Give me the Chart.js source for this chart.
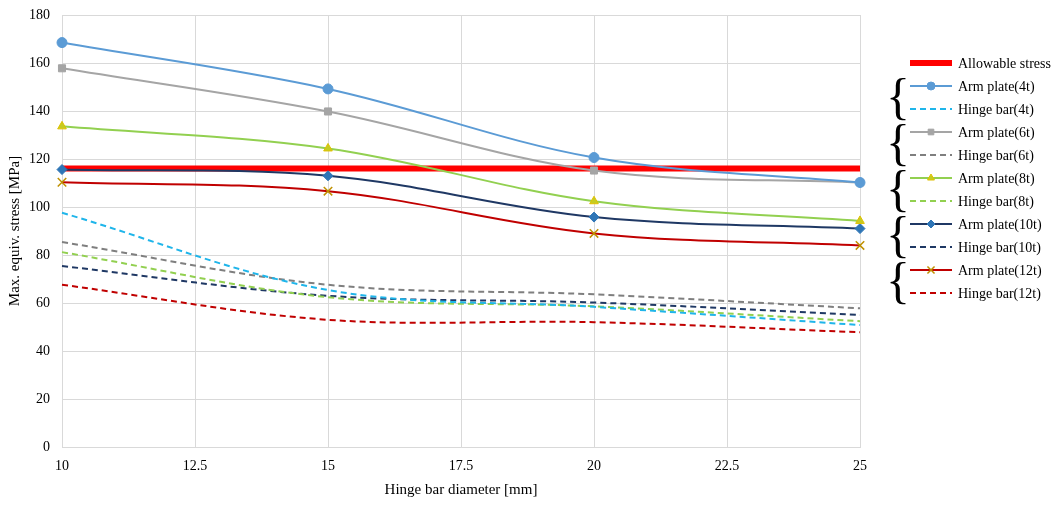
<!DOCTYPE html>
<html>
<head>
<meta charset="utf-8">
<script src="https://cdn.jsdelivr.net/npm/chart.js@4"></script>
<style>
  body { margin: 0; background: #fff; }
  #wrap { width: 1061px; height: 505px; }
</style>
</head>
<body>
<div id="wrap"><canvas id="stress-chart" width="1061" height="505"></canvas></div>
<script>
// hinge bar diameter [mm]
const diameters = [10, 15, 20, 25];
const allowable = 116;

const armPlate4t  = [168.5, 149.2, 120.6, 110.2];
const armPlate6t  = [157.8, 139.8, 115.2, 110.2];
const armPlate8t  = [133.6, 124.4, 102.4, 94.2];
const armPlate10t = [115.6, 113.0, 95.8, 91.0];
const armPlate12t = [110.3, 106.6, 89.0, 84.0];

const hingeBar4t  = [97.6, 65.4, 58.4, 50.8];
const hingeBar6t  = [85.4, 67.6, 63.6, 57.8];
const hingeBar8t  = [81.2, 62.4, 58.6, 52.4];
const hingeBar10t = [75.4, 63.0, 60.2, 55.0];
const hingeBar12t = [67.6, 53.0, 52.0, 47.8];

const yTicks = [0, 20, 40, 60, 80, 100, 120, 140, 160, 180];
const xTicks = [10, 12.5, 15, 17.5, 20, 22.5, 25];

const serif = "'Liberation Serif', 'Times New Roman', serif";

function pts(vals) {
    return vals.map(function(v, i) { return {x: diameters[i], y: v}; });
}

function arm(label, vals, color, style, markerFill, markerBorder) {
    return {
        label: label, data: pts(vals), borderColor: color, borderWidth: 2,
        pointStyle: style, pointRadius: style === 'crossRot' ? 6 : 5,
        pointBackgroundColor: markerFill, pointBorderColor: markerBorder || markerFill,
        pointBorderWidth: style === 'crossRot' ? 1.5 : 1,
        tension: 0.35, fill: false, clip: false
    };
}

function hinge(label, vals, color) {
    return {
        label: label, data: pts(vals), borderColor: color, borderWidth: 2,
        borderDash: [6, 4], pointRadius: 0, tension: 0.35, fill: false, clip: false
    };
}

const datasets = [
    arm('Arm plate(4t)', armPlate4t, '#5b9bd5', 'circle', '#5b9bd5'),
    hinge('Hinge bar(4t)', hingeBar4t, '#1fb5ea'),
    arm('Arm plate(6t)', armPlate6t, '#a5a5a5', 'rect', '#a5a5a5'),
    hinge('Hinge bar(6t)', hingeBar6t, '#7f7f7f'),
    arm('Arm plate(8t)', armPlate8t, '#92d050', 'triangle', '#c5cc22', '#e0c000'),
    hinge('Hinge bar(8t)', hingeBar8t, '#92d050'),
    arm('Arm plate(10t)', armPlate10t, '#1f3864', 'rectRot', '#2e75b6'),
    hinge('Hinge bar(10t)', hingeBar10t, '#1f3864'),
    arm('Arm plate(12t)', armPlate12t, '#c00000', 'crossRot', '#bf9000', '#bf9000'),
    hinge('Hinge bar(12t)', hingeBar12t, '#c00000'),
    {
        label: 'Allowable stress',
        data: [{x: diameters[0], y: allowable}, {x: diameters[diameters.length - 1], y: allowable}],
        borderColor: '#ff0000', borderWidth: 6, pointRadius: 0, fill: false
    }
];

// legend on the right with braces grouping arm plate / hinge bar pairs
const sideLegend = {
    id: 'sideLegend',
    afterDraw: function(chart) {
        const ctx = chart.ctx;
        const x0 = 910, x1 = 952, tx = 958;
        const rowY = function(i) { return 63 + i * 23; };
        const order = [10, 0, 1, 2, 3, 4, 5, 6, 7, 8, 9];
        ctx.save();
        ctx.font = '14px ' + serif;
        ctx.textBaseline = 'middle';
        order.forEach(function(di, i) {
            const ds = chart.data.datasets[di];
            const y = rowY(i);
            ctx.strokeStyle = ds.borderColor;
            ctx.lineWidth = ds.borderWidth;
            ctx.setLineDash(ds.borderDash || []);
            ctx.beginPath();
            ctx.moveTo(x0, y);
            ctx.lineTo(x1, y);
            ctx.stroke();
            ctx.setLineDash([]);
            if (ds.pointRadius) {
                ctx.fillStyle = ds.pointBackgroundColor;
                ctx.strokeStyle = ds.pointBorderColor;
                ctx.lineWidth = ds.pointBorderWidth;
                Chart.helpers.drawPoint(ctx, {
                    pointStyle: ds.pointStyle, radius: ds.pointRadius - 1, rotation: 0,
                    borderWidth: ds.pointBorderWidth
                }, (x0 + x1) / 2, y);
            }
            ctx.fillStyle = '#000';
            ctx.textAlign = 'left';
            ctx.fillText(ds.label, tx, y + 1);
        });
        // braces
        ctx.fillStyle = '#000';
        ctx.font = '50px ' + serif;
        ctx.textAlign = 'center';
        for (let g = 0; g < 5; g++) {
            const yc = (rowY(1 + g * 2) + rowY(2 + g * 2)) / 2;
            ctx.fillText('{', 898, yc + 2);
        }
        ctx.restore();
    }
};

new Chart(document.getElementById('stress-chart'), {
    type: 'line',
    data: { datasets: datasets },
    plugins: [sideLegend],
    options: {
        responsive: false,
        animation: false,
        layout: { autoPadding: false, padding: { left: 6, right: 201, top: 15, bottom: 6 } },
        plugins: { legend: { display: false }, tooltip: { enabled: false } },
        scales: {
            x: {
                type: 'linear', min: 10, max: 25,
                afterBuildTicks: function(scale) {
                    scale.ticks = xTicks.map(function(v) { return {value: v}; });
                },
                afterFit: function(scale) { scale.height = 52; },
                grid: { color: '#d9d9d9', drawTicks: false },
                border: { color: '#d9d9d9' },
                ticks: { color: '#000', font: { family: serif, size: 14 }, padding: 11, maxRotation: 0,
                    callback: function(v) { return String(v); } },
                title: { display: true, text: 'Hinge bar diameter [mm]', color: '#000',
                    font: { family: serif, size: 15 }, padding: { top: 0, bottom: 0 } }
            },
            y: {
                min: 0, max: 180,
                afterBuildTicks: function(scale) {
                    scale.ticks = yTicks.map(function(v) { return {value: v}; });
                },
                afterFit: function(scale) {
                    scale.width = 56;
                    scale.paddingTop = 10;
                    scale.paddingBottom = 10;
                },
                grid: { color: '#d9d9d9', drawTicks: false },
                border: { color: '#d9d9d9' },
                ticks: { color: '#000', font: { family: serif, size: 14 }, padding: 12 },
                title: { display: true, text: 'Max. equiv. stress [MPa]', color: '#000',
                    font: { family: serif, size: 15 }, padding: { top: 0, bottom: 0 } }
            }
        }
    }
});
</script>
</body>
</html>
